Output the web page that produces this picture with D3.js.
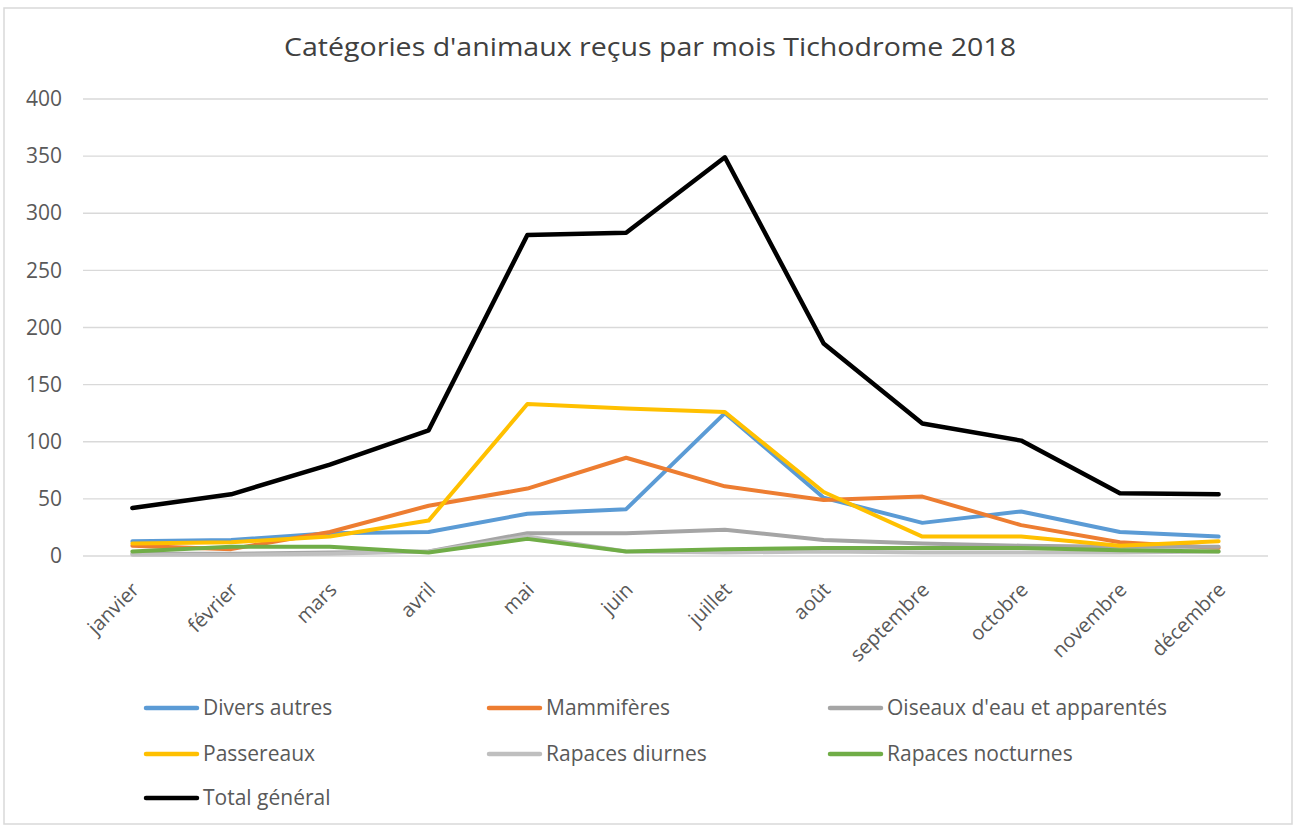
<!DOCTYPE html>
<html lang="fr">
<head>
<meta charset="utf-8">
<title>Catégories d'animaux reçus par mois</title>
<script src="https://cdnjs.cloudflare.com/ajax/libs/d3/7.8.5/d3.min.js"></script>
<style>
  body { margin: 0; background: #fff; }
  svg { display: block; font-family: "Open Sans", "Noto Sans", sans-serif; }
  .grid line { stroke: #d9d9d9; stroke-width: 1.3; }
  .lbl { fill: #595959; }
</style>
</head>
<body>
<div id="chart"></div>
<script>
// months on the x axis
var months = ["janvier", "février", "mars", "avril", "mai", "juin", "juillet", "août",
              "septembre", "octobre", "novembre", "décembre"];

// values, one array per category
var diversAutres     = [13, 14, 20, 21, 37, 41, 125, 51, 29, 39, 21, 17];
var mammiferes       = [9, 6, 21, 44, 59, 86, 61, 49, 52, 27, 12, 7];
var oiseauxEau       = [2, 2, 3, 4, 20, 20, 23, 14, 11, 9, 8, 8];
var passereaux       = [11, 12, 17, 31, 133, 129, 126, 56, 17, 17, 9, 13];
var rapacesDiurnes   = [1, 1, 2, 4, 17, 4, 3, 4, 3, 3, 3, 4];
var rapacesNocturnes = [4, 8, 8, 3, 15, 4, 6, 7, 7, 7, 5, 4];
var totalGeneral     = [42, 54, 80, 110, 281, 283, 349, 186, 116, 101, 55, 54];

var yTicks = [0, 50, 100, 150, 200, 250, 300, 350, 400];

var seriesNames  = ["Divers autres", "Mammifères", "Oiseaux d'eau et apparentés",
                    "Passereaux", "Rapaces diurnes", "Rapaces nocturnes", "Total général"];
var seriesValues = [diversAutres, mammiferes, oiseauxEau, passereaux,
                    rapacesDiurnes, rapacesNocturnes, totalGeneral];
var seriesColors = ["#5b9bd5", "#ed7d31", "#a5a5a5", "#ffc000", "#bfbfbf", "#70ad47", "#000000"];

var W = 1297, H = 828;
var plot = { left: 83, right: 1268, top: 99, bottom: 556 };

var svg = d3.select("#chart").append("svg")
    .attr("width", W)
    .attr("height", H);

// outer frame of the chart
svg.append("rect")
    .attr("x", 4).attr("y", 8)
    .attr("width", W - 9).attr("height", H - 12)
    .attr("fill", "#fff")
    .attr("stroke", "#d9d9d9")
    .attr("stroke-width", 1.5);

svg.append("text")
    .attr("x", 650).attr("y", 56)
    .attr("text-anchor", "middle")
    .attr("font-size", 25)
    .attr("fill", "#404040")
    .attr("textLength", 732)
    .attr("lengthAdjust", "spacingAndGlyphs")
    .text("Catégories d'animaux reçus par mois Tichodrome 2018");

var x = d3.scaleBand().domain(months).range([plot.left, plot.right]);
var y = d3.scaleLinear().domain([0, 400]).range([plot.bottom, plot.top]);

// horizontal gridlines
svg.append("g").attr("class", "grid")
    .selectAll("line").data(yTicks).join("line")
    .attr("x1", plot.left).attr("x2", plot.right)
    .attr("y1", d => y(d)).attr("y2", d => y(d));

// y axis labels
var yAxis = d3.axisLeft(y).tickValues(yTicks).tickSize(0).tickPadding(0);
var gy = svg.append("g")
    .attr("transform", "translate(62,0)")
    .call(yAxis);
gy.select(".domain").remove();
gy.selectAll("text")
    .attr("class", "lbl")
    .attr("font-size", 21)
    .attr("font-family", "\"Open Sans\", \"Noto Sans\", sans-serif");

// x axis labels, rotated
var xAxis = d3.axisBottom(x).tickSize(0).tickPadding(0);
var gx = svg.append("g")
    .attr("transform", "translate(0," + plot.bottom + ")")
    .call(xAxis);
gx.select(".domain").remove();
gx.selectAll("text")
    .attr("class", "lbl")
    .attr("font-size", 20)
    .attr("font-family", "\"Open Sans\", \"Noto Sans\", sans-serif")
    .attr("text-anchor", "end")
    .attr("dy", 0)
    .attr("transform", "translate(8,35) rotate(-45)");

// the lines
var line = d3.line()
    .x((d, i) => x(months[i]) + x.bandwidth() / 2)
    .y(d => y(d));

svg.append("g")
    .selectAll("path").data(seriesValues).join("path")
    .attr("d", d => line(d))
    .attr("fill", "none")
    .attr("stroke", (d, i) => seriesColors[i])
    .attr("stroke-width", (d, i) => i === 6 ? 4.5 : 4)
    .attr("stroke-linejoin", "round")
    .attr("stroke-linecap", "round");

// legend, three columns
var legX = [146, 489, 830];
var legY = [708, 754, 798];
var leg = svg.append("g")
    .selectAll("g").data(seriesNames).join("g")
    .attr("transform", (d, i) => "translate(" + legX[i % 3] + "," + legY[Math.floor(i / 3)] + ")");

leg.append("line")
    .attr("x1", 0).attr("x2", 51)
    .attr("stroke", (d, i) => seriesColors[i])
    .attr("stroke-width", 4.5)
    .attr("stroke-linecap", "round");

leg.append("text")
    .attr("class", "lbl")
    .attr("x", 57).attr("dy", "0.35em")
    .attr("font-size", 21)
    .text(d => d);
</script>
</body>
</html>
